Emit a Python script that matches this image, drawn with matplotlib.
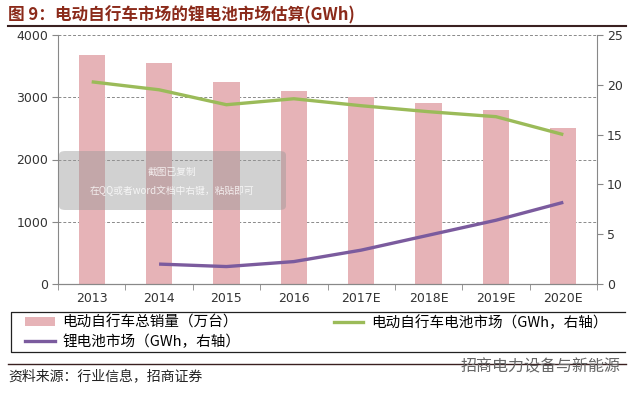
import matplotlib
matplotlib.use("Agg")
import matplotlib.pyplot as plt
from matplotlib.lines import Line2D
from matplotlib.patches import Patch, FancyBboxPatch
import numpy as np

plt.rcParams['font.family'] = ['Noto Sans CJK SC', 'DejaVu Sans']

# data
years = ['2013', '2014', '2015', '2016', '2017E', '2018E', '2019E', '2020E']
ebike_sales = [3680, 3550, 3250, 3100, 3000, 2900, 2800, 2500]          # 万台, left axis
ebike_batt = [20.3, 19.5, 18.0, 18.6, 17.9, 17.3, 16.8, 15.0]            # GWh, right axis
li_batt = [None, 2.0, 1.75, 2.25, 3.4, 4.9, 6.4, 8.2]                    # GWh, right axis

W, H = 640, 394
fig = plt.figure(figsize=(W / 100, H / 100), dpi=100)

def fx(px):
    return px / W

def fy(py):
    return 1 - py / H

pink = '#E6B3B7'
green = '#9BBB59'
purple = '#7B5B9E'
grey = '#888888'

ax = fig.add_axes([fx(58), fy(284), fx(597) - fx(58), fy(35) - fy(284)])
x = np.arange(len(years))

ax.bar(x, ebike_sales, width=0.39, color=pink, zorder=2)
ax.set_xlim(-0.5, len(years) - 0.5)
ax.set_ylim(0, 4000)
ax.set_yticks([0, 1000, 2000, 3000, 4000])
for v in [1000, 2000, 3000, 4000]:
    ax.axhline(v, color='#8a8a8a', lw=0.7, ls=(0, (3, 2)), zorder=1)

ax.set_xticks(x)
ax.set_xticklabels(years)
ax.set_xticks(np.arange(-0.5, len(years)), minor=True)
ax.tick_params(axis='x', which='major', length=0, pad=6)
ax.tick_params(axis='x', which='minor', length=4, color=grey)
ax.tick_params(axis='y', length=4, color=grey, pad=3)
ax.tick_params(labelsize=9, labelcolor='#333333')

ax2 = ax.twinx()
ax2.plot(x, ebike_batt, color=green, lw=2.4, solid_capstyle='butt', zorder=3)
li_x = [i for i, v in enumerate(li_batt) if v is not None]
li_y = [v for v in li_batt if v is not None]
ax2.plot(li_x, li_y, color=purple, lw=2.4, solid_capstyle='butt', zorder=3)
ax2.set_ylim(0, 25)
ax2.set_yticks([0, 5, 10, 15, 20, 25])
ax2.tick_params(axis='y', length=4, color=grey, labelsize=9, labelcolor='#333333', pad=3)

for a in (ax, ax2):
    a.spines['top'].set_visible(False)
    for s in ['left', 'right', 'bottom']:
        a.spines[s].set_color(grey)
        a.spines[s].set_linewidth(0.8)
    for lab in a.get_xticklabels() + a.get_yticklabels():
        lab.set_family('DejaVu Sans')
ax2.spines['left'].set_visible(False)
ax.spines['right'].set_visible(False)

# screenshot watermark box
box = FancyBboxPatch((fx(59), fy(210)), fx(286) - fx(59), fy(151) - fy(210),
                     boxstyle='round,pad=0,rounding_size=0.01', transform=fig.transFigure,
                     facecolor='#9a9a9a', alpha=0.45, edgecolor='none', zorder=5)
fig.patches.append(box)
fig.text(fx(172), fy(172), '截图已复制', ha='center', va='center', fontsize=7,
         color='white', alpha=0.8, zorder=6)
fig.text(fx(172), fy(191), '在QQ或者word文档中右键，粘贴即可', ha='center', va='center',
         fontsize=7, color='white', alpha=0.8, zorder=6)

# title
fig.text(fx(8), fy(15), '图 9：电动自行车市场的锂电池市场估算(GWh)', ha='left', va='center',
         fontsize=12, fontweight='bold', color='#8B2A1A')
fig.add_artist(Line2D([fx(8), fx(626)], [fy(26), fy(26)], color='#3a2020', lw=1.5))

# legend (box drawn by hand, no right edge like the reference)
bx0, bx1, by0, by1 = 11, 625, 312, 352
fig.add_artist(Line2D([fx(bx1), fx(bx0), fx(bx0), fx(bx1)],
                      [fy(by0), fy(by0), fy(by1), fy(by1)], color='#222222', lw=0.9))
handles = [Patch(facecolor=pink, edgecolor='none'),
           Line2D([], [], color=purple, lw=2.4),
           Line2D([], [], color=green, lw=2.4)]
labels = ['电动自行车总销量（万台）', '锂电池市场（GWh，右轴）', '电动自行车电池市场（GWh，右轴）']
leg = fig.legend(handles, labels, ncol=2, loc='upper left',
                 bbox_to_anchor=(fx(25), fy(315)), fontsize=10.5, frameon=False,
                 handlelength=2.05, handletextpad=0.5, borderaxespad=0, borderpad=0,
                 labelspacing=0.3, columnspacing=6.4, handleheight=0.5)

# source line and text
fig.add_artist(Line2D([fx(8), fx(626)], [fy(364), fy(364)], color='#3a2020', lw=1.0))
fig.text(fx(8), fy(376), '资料来源：行业信息，招商证券', ha='left', va='center', fontsize=10, color='#222222')
fig.text(fx(621), fy(367), '招商电力设备与新能源', ha='right', va='center', fontsize=11.5,
         color='#666666', zorder=4)

fig.savefig('out.png', dpi=100)
